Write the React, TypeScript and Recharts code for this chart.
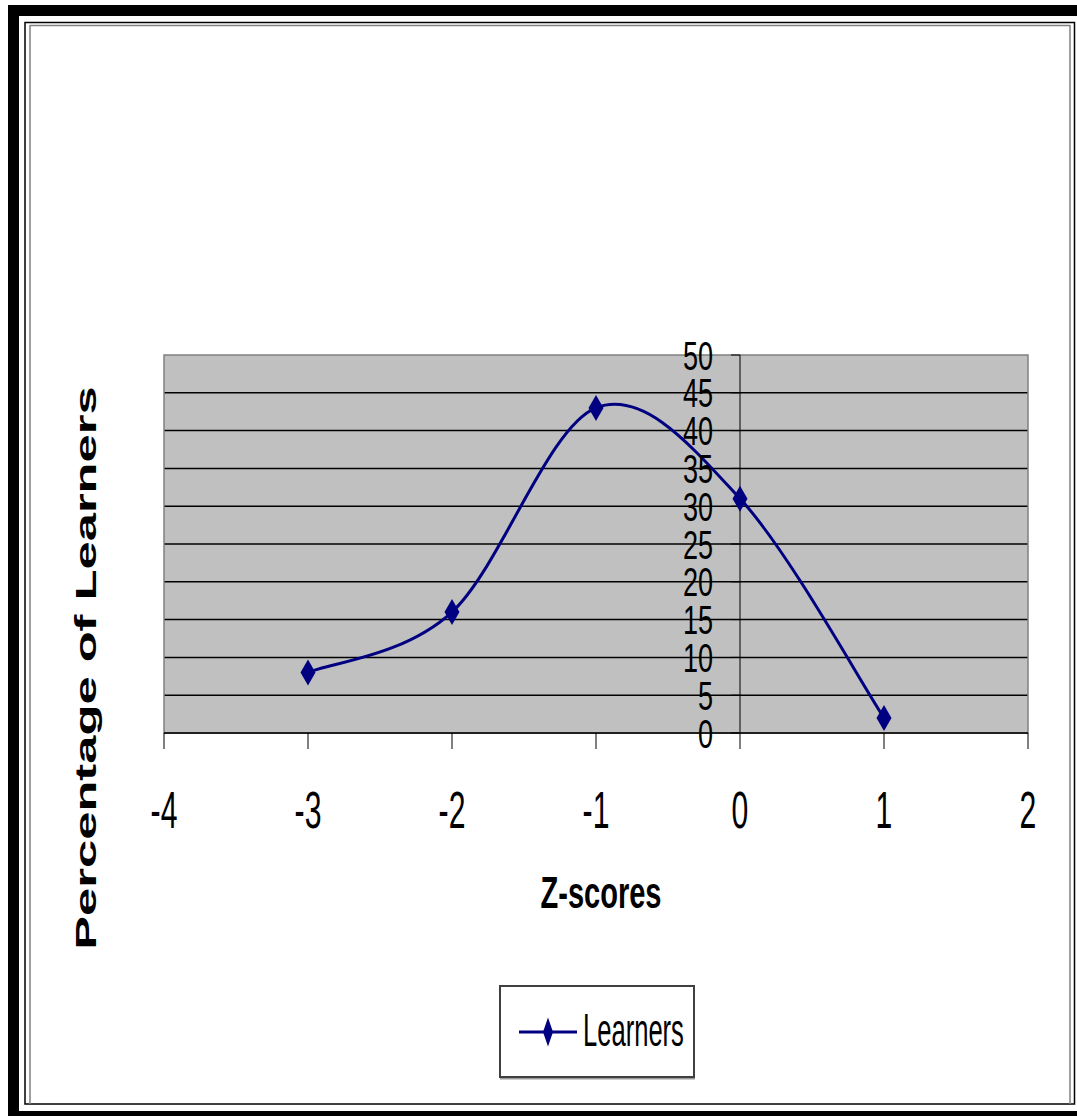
import React from "react";
import {
  LineChart,
  Line,
  XAxis,
  YAxis,
  CartesianGrid,
  ReferenceLine,
  ReferenceDot,
  ReferenceArea,
  Legend,
} from "recharts";

const zScores = [-3, -2, -1, 0, 1];
const learnersPct = [8, 16, 43, 31, 2];
const xTicks = [-4, -3, -2, -1, 0, 1, 2];
const yTicks = [0, 5, 10, 15, 20, 25, 30, 35, 40, 45, 50];
const gridValues = [5, 10, 15, 20, 25, 30, 35, 40, 45];

const FONT = '"Liberation Sans", Arial, sans-serif';
const NAVY = "#000080";

const data = zScores.map((z, i) => ({ z, pct: learnersPct[i] }));

// excel-like smoothed line (catmull-rom as cubic beziers)
function excelCurve(context: any) {
  let pts: number[][] = [];
  return {
    areaStart() {},
    areaEnd() {},
    lineStart() {
      pts = [];
    },
    point(x: number, y: number) {
      pts.push([+x, +y]);
    },
    lineEnd() {
      const n = pts.length;
      if (!n) return;
      context.moveTo(pts[0][0], pts[0][1]);
      for (let i = 0; i < n - 1; i++) {
        const p0 = pts[Math.max(i - 1, 0)];
        const p1 = pts[i];
        const p2 = pts[i + 1];
        const p3 = pts[Math.min(i + 2, n - 1)];
        context.bezierCurveTo(
          p1[0] + (p2[0] - p0[0]) / 6,
          p1[1] + (p2[1] - p0[1]) / 6,
          p2[0] - (p3[0] - p1[0]) / 6,
          p2[1] - (p3[1] - p1[1]) / 6,
          p2[0],
          p2[1]
        );
      }
    },
  };
}

function Diamond(props: any) {
  const { cx, cy, index } = props;
  return (
    <polygon
      key={`dia-${index}`}
      points={`${cx},${cy - 13} ${cx + 7.5},${cy} ${cx},${cy + 13} ${cx - 7.5},${cy}`}
      fill={NAVY}
    />
  );
}

function XTick(props: any) {
  const { x, y, payload } = props;
  return (
    <g transform={`translate(${x},${y})`}>
      <text
        transform="scale(0.58,1)"
        textAnchor="middle"
        y={77}
        fontSize={52}
        fontFamily={FONT}
        fill="#000"
      >
        {payload.value}
      </text>
    </g>
  );
}

function XTitle(props: any) {
  const vb = props.viewBox || {};
  const cx = vb.x + vb.width / 2 + 5;
  return (
    <text
      transform={`translate(${cx},908) scale(0.66,1)`}
      textAnchor="middle"
      fontSize={44}
      fontWeight="bold"
      fontFamily={FONT}
      fill="#000"
    >
      Z-scores
    </text>
  );
}

function yLabel(v: number) {
  return (p: any) => (
    <g>
      <line x1={p.cx - 9} y1={p.cy} x2={p.cx} y2={p.cy} stroke="#000" strokeWidth={1} />
      <text
        transform={`translate(${p.cx - 27},${p.cy + 14.5}) scale(0.66,1)`}
        textAnchor="end"
        fontSize={41}
        fontFamily={FONT}
        fill="#000"
      >
        {v}
      </text>
    </g>
  );
}

function LegendBox() {
  return (
    <svg width={198} height={96}>
      <line x1={1} y1={93} x2={196} y2={93} stroke="#9a9a9a" strokeWidth={3} />
      <rect x={1} y={1} width={194} height={91} fill="#fff" stroke="#404040" strokeWidth={2} />
      <line x1={20} y1={47} x2={78} y2={47} stroke={NAVY} strokeWidth={3} />
      <polygon points="49,32.5 54,47 49,61.5 44,47" fill={NAVY} />
      <text
        transform="translate(84,61) scale(0.556,1)"
        fontSize={46}
        fontFamily={FONT}
        fill="#000"
      >
        Learners
      </text>
    </svg>
  );
}

function Frame() {
  return (
    <svg
      width={1077}
      height={1116}
      style={{ position: "absolute", left: 0, top: 0 }}
    >
      <rect x={0} y={0} width={1077} height={1116} fill="#fff" />
      <rect x={8} y={5} width={1069} height={11} fill="#000" />
      <rect x={8} y={5} width={11} height={1111} fill="#000" />
      <rect x={8} y={1111} width={1069} height={5} fill="#000" />
      <rect x={25} y={22.5} width={1049.5} height={1081.5} fill="none" stroke="#000" strokeWidth={1.5} />
      <line x1={30} y1={25} x2={30} y2={1104} stroke="#808080" strokeWidth={1.5} />
      <line x1={1070} y1={25} x2={1070} y2={1104} stroke="#808080" strokeWidth={1.5} />
      <line x1={30} y1={25.5} x2={1070} y2={25.5} stroke="#808080" strokeWidth={1.5} />
      <text
        transform="translate(96,668) rotate(-90) scale(1.69,1)"
        textAnchor="middle"
        fontSize={30}
        fontWeight="bold"
        fontFamily={FONT}
        fill="#000"
      >
        Percentage of Learners
      </text>
    </svg>
  );
}

export default function App() {
  return (
    <div
      style={{
        position: "absolute",
        left: 0,
        top: 0,
        width: 1077,
        height: 1116,
        background: "#fff",
        fontFamily: FONT,
      }}
    >
      <Frame />
      <div style={{ position: "absolute", left: 0, top: 0 }}>
        <LineChart
          width={1077}
          height={1116}
          data={data}
          margin={{ top: 355, right: 49, bottom: 323, left: 164 }}
        >
          <CartesianGrid
            vertical={false}
            horizontalValues={gridValues}
            stroke="#000"
            strokeWidth={1.5}
            fill="#C0C0C0"
            fillOpacity={1}
          />
          <ReferenceArea
            x1={-4}
            x2={2}
            y1={0}
            y2={50}
            fill="none"
            stroke="#808080"
            strokeWidth={1.5}
            ifOverflow="visible"
          />
          <XAxis
            type="number"
            dataKey="z"
            domain={[-4, 2]}
            ticks={xTicks}
            height={60}
            tickSize={16}
            tickLine={{ stroke: "#000", strokeWidth: 1 }}
            axisLine={{ stroke: "#202020", strokeWidth: 2 }}
            tick={(p: any) => <XTick {...p} />}
            label={{ content: (p: any) => <XTitle {...p} /> }}
          />
          <YAxis type="number" domain={[0, 50]} ticks={yTicks} hide width={0} />
          <ReferenceLine x={0} stroke="#000" strokeWidth={1} />
          {yTicks.map((v) => (
            <ReferenceDot
              key={`yl-${v}`}
              x={0}
              y={v}
              r={0}
              ifOverflow="visible"
              shape={yLabel(v)}
            />
          ))}
          <Legend
            layout="horizontal"
            verticalAlign="middle"
            align="center"
            wrapperStyle={{ left: 499, top: 985, width: 198, height: 96 }}
            content={() => <LegendBox />}
          />
          <Line
            type={excelCurve as any}
            dataKey="pct"
            stroke={NAVY}
            strokeWidth={3}
            dot={(p: any) => <Diamond key={`dm-${p.index}`} {...p} />}
            activeDot={false}
            isAnimationActive={false}
          />
        </LineChart>
      </div>
    </div>
  );
}
